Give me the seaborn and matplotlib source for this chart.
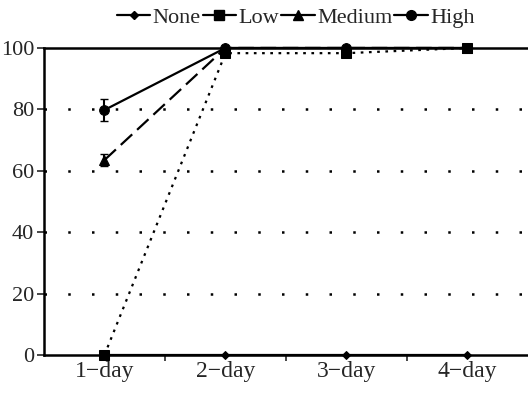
import matplotlib
matplotlib.use("Agg")
import matplotlib.pyplot as plt
from matplotlib.lines import Line2D
import seaborn as sns
import pandas as pd

days = ["1\u2212day", "2\u2212day", "3\u2212day", "4\u2212day"]
none_vals = [0, 0, 0, 0]
low_vals = [0, 98.3, 98.3, 100]
medium_vals = [63.5, 100, 100, 100]
high_vals = [79.8, 100, 100, 100]
medium_err = [2, 0, 0, 0]
high_err = [3.5, 0, 0, 0]

series = ["None", "Low", "Medium", "High"]
markers = {"None": "D", "Low": "s", "Medium": "^", "High": "o"}
msizes = {"None": 4, "Low": 7, "Medium": 7, "High": 7}
styles = {"None": "-", "Low": (0, (1.2, 2.5)), "Medium": (0, (7, 3)), "High": "-"}

rows = []
for name, vals in zip(series, [none_vals, low_vals, medium_vals, high_vals]):
    for i, v in enumerate(vals):
        rows.append({"day": i, "value": v, "group": name})
df = pd.DataFrame(rows)

sns.set_style("white")
plt.rcParams["font.family"] = ["Liberation Serif", "DejaVu Serif"]

fig = plt.figure(figsize=(5.28, 3.93), dpi=100)
ax = fig.add_axes([0.0833, 0.0967, 0.9167, 0.7813])

for name in ["None", "Low", "Medium", "High"]:
    sub = df[df["group"] == name]
    sns.lineplot(data=sub, x="day", y="value", ax=ax, color="black",
                 linestyle=styles[name], linewidth=1.6, marker=markers[name],
                 markersize=msizes[name], markeredgecolor="black", clip_on=False,
                 zorder=3)

ax.errorbar([0], [medium_vals[0]], yerr=[medium_err[0]], fmt="none", ecolor="black",
            capsize=3, elinewidth=1.5)
ax.errorbar([0], [high_vals[0]], yerr=[high_err[0]], fmt="none", ecolor="black",
            capsize=3, elinewidth=1.5)

for y in [20, 40, 60, 80]:
    ax.axhline(y, color="black", linestyle=(0, (1, 8.5)), linewidth=1.8, zorder=1)

ax.set_xlim(-0.5, 3.5)
ax.set_ylim(0, 100)
ax.set_xticks(range(4))
ax.set_xticklabels(days)
ax.set_xticks([0.5, 1.5, 2.5], minor=True)
ax.set_yticks([0, 20, 40, 60, 80, 100])
ax.tick_params(axis="x", which="major", length=0, labelsize=17, pad=4)
ax.tick_params(axis="x", which="minor", length=4, width=1.2, direction="out", bottom=True)
ax.tick_params(axis="y", length=5, width=1.2, direction="out", left=True, labelsize=16, pad=2)
ax.set_xlabel("")
ax.set_ylabel("")

for side in ["left", "bottom", "top"]:
    ax.spines[side].set_color("black")
    ax.spines[side].set_linewidth(1.8)
ax.spines["right"].set_visible(False)

handles = [Line2D([], [], color="black", linestyle="-", linewidth=1.6,
                  marker=markers[n], markersize=msizes[n]) for n in series]
ax.legend(handles, series, loc="lower center", bbox_to_anchor=(0.52, 1.0), ncol=4,
          frameon=False, fontsize=16, handlelength=1.5, handletextpad=0.1,
          columnspacing=0.1, borderaxespad=0.5)

fig.savefig("out.png", dpi=100)
